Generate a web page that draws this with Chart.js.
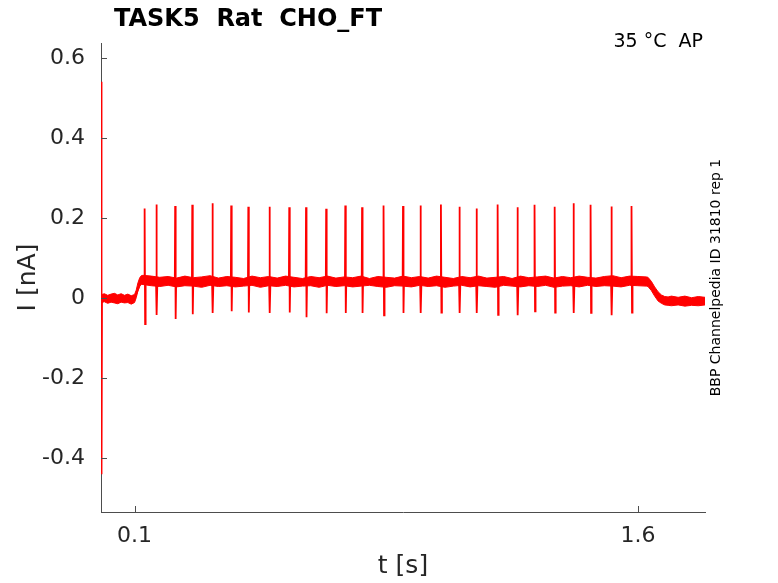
<!DOCTYPE html>
<html>
<head>
<meta charset="utf-8">
<script src="https://cdn.jsdelivr.net/npm/chart.js@4/dist/chart.umd.min.js"></script>
<style>
  body { margin: 0; background: #fff; }
  canvas { display: block; }
</style>
</head>
<body>
<canvas id="traceChart" width="778" height="583"></canvas>
<script>
// ===== Data =====
const xTicks = [0.1, 1.6];
const yTicks = [-0.4, -0.2, 0, 0.2, 0.4, 0.6];

const stepLevel = 0.042;

const spikeTimes = [0.130, 0.165, 0.221, 0.272, 0.332, 0.388, 0.439, 0.502, 0.561, 0.611,
  0.671, 0.728, 0.778, 0.842, 0.900, 0.952, 1.013, 1.068, 1.119, 1.182,
  1.241, 1.292, 1.352, 1.408, 1.459, 1.521, 1.581];
const spikePeaks = [0.224, 0.234, 0.230, 0.233, 0.237, 0.231, 0.228, 0.228, 0.227, 0.227,
  0.223, 0.231, 0.227, 0.231, 0.230, 0.231, 0.234, 0.228, 0.224, 0.234,
  0.227, 0.233, 0.228, 0.237, 0.233, 0.229, 0.230];
const spikeTroughs = [-0.065, -0.042, -0.052, -0.040, -0.037, -0.033, -0.036, -0.037, -0.036, -0.048,
  -0.038, -0.037, -0.037, -0.043, -0.037, -0.037, -0.036, -0.037, -0.037, -0.042,
  -0.043, -0.033, -0.036, -0.037, -0.037, -0.043, -0.036];

// stimulus artefact at t = 0 and the step onset
const onsetT = [0.0005, 0.0012, 0.0020, 0.0030, 0.100, 0.120];
const onsetI = [0.0, 0.54, -0.44, 0.0, 0.0, 0.042];

// noise band (upper / lower edge of the trace)
const bandT = [0.002, 0.01, 0.02, 0.03, 0.04, 0.05, 0.06, 0.07, 0.08, 0.09,
  0.1, 0.105, 0.11, 0.115, 0.12,
  0.125, 0.15, 0.175, 0.2, 0.225, 0.25, 0.275, 0.3, 0.325, 0.35,
  0.375, 0.4, 0.425, 0.45, 0.475, 0.5, 0.525, 0.55, 0.575, 0.6,
  0.625, 0.65, 0.675, 0.7, 0.725, 0.75, 0.775, 0.8, 0.825, 0.85,
  0.875, 0.9, 0.925, 0.95, 0.975, 1.0, 1.025, 1.05, 1.075, 1.1,
  1.125, 1.15, 1.175, 1.2, 1.225, 1.25, 1.275, 1.3, 1.325, 1.35,
  1.375, 1.4, 1.425, 1.45, 1.475, 1.5, 1.525, 1.55, 1.575, 1.6,
  1.625, 1.63, 1.64, 1.65, 1.66, 1.67, 1.68, 1.69, 1.70, 1.72,
  1.74, 1.76, 1.78, 1.80];
const bandUpper = [0.009, 0.011, 0.007, 0.010, 0.012, 0.008, 0.011, 0.007, 0.010, 0.006,
  0.009, 0.020, 0.038, 0.050, 0.056,
  0.057, 0.055, 0.052, 0.054, 0.050, 0.055, 0.051, 0.053, 0.056, 0.050,
  0.054, 0.052, 0.049, 0.055, 0.051, 0.054, 0.050, 0.055, 0.052, 0.049,
  0.054, 0.051, 0.055, 0.050, 0.053, 0.051, 0.055, 0.049, 0.054, 0.052,
  0.050, 0.055, 0.051, 0.054, 0.050, 0.055, 0.052, 0.049, 0.054, 0.051,
  0.055, 0.050, 0.052, 0.054, 0.049, 0.055, 0.051, 0.053, 0.055, 0.050,
  0.054, 0.051, 0.055, 0.052, 0.050, 0.054, 0.056, 0.051, 0.055, 0.054,
  0.053, 0.052, 0.042, 0.028, 0.016, 0.008, 0.004, 0.003, 0.005, 0.002,
  0.005, 0.001, 0.004, 0.002];
const bandLower = [-0.011, -0.009, -0.013, -0.010, -0.012, -0.014, -0.010, -0.012, -0.011, -0.015,
  -0.011, 0.001, 0.018, 0.030, 0.034,
  0.034, 0.031, 0.029, 0.032, 0.028, 0.031, 0.030, 0.027, 0.032, 0.029,
  0.031, 0.028, 0.030, 0.032, 0.027, 0.031, 0.029, 0.032, 0.028, 0.030,
  0.031, 0.027, 0.032, 0.029, 0.031, 0.028, 0.030, 0.032, 0.029, 0.027,
  0.031, 0.030, 0.028, 0.032, 0.029, 0.031, 0.027, 0.030, 0.032, 0.028,
  0.031, 0.029, 0.027, 0.032, 0.030, 0.028, 0.031, 0.029, 0.032, 0.027,
  0.030, 0.031, 0.028, 0.032, 0.029, 0.031, 0.030, 0.028, 0.032, 0.031,
  0.030, 0.029, 0.019, 0.005, -0.007, -0.013, -0.017, -0.018, -0.019, -0.017,
  -0.020, -0.018, -0.019, -0.017];

// ===== Build point lists =====
const upperPts = bandT.map((t, i) => ({ x: t, y: bandUpper[i] }));
const lowerPts = bandT.map((t, i) => ({ x: t, y: bandLower[i] }));

const tracePts = onsetT.map((t, i) => ({ x: t, y: onsetI[i] }));
spikeTimes.forEach((t, i) => {
  tracePts.push({ x: t - 0.001, y: stepLevel });
  tracePts.push({ x: t, y: spikePeaks[i] });
  tracePts.push({ x: t + 0.0015, y: spikeTroughs[i] });
  tracePts.push({ x: t + 0.003, y: stepLevel });
});

const RED = '#ff0000';
const AXIS = '#4d4d4d';
const TEXT = '#262626';
const FONT = "'DejaVu Sans', sans-serif";

// inward tick marks + annotation texts
const matlabDecor = {
  id: 'matlabDecor',
  afterDraw(chart) {
    const ctx = chart.ctx;
    const x = chart.scales.x, y = chart.scales.y;
    const area = chart.chartArea;
    ctx.save();
    ctx.strokeStyle = AXIS;
    ctx.lineWidth = 1;
    ctx.beginPath();
    yTicks.forEach(v => {
      const py = Math.round(y.getPixelForValue(v)) + 0.5;
      ctx.moveTo(area.left, py);
      ctx.lineTo(area.left + 6, py);
    });
    xTicks.forEach(v => {
      const px = Math.round(x.getPixelForValue(v)) + 0.5;
      ctx.moveTo(px, area.bottom);
      ctx.lineTo(px, area.bottom - 6);
    });
    ctx.stroke();

    ctx.fillStyle = '#000';
    ctx.font = "bold 24px " + FONT;
    ctx.textAlign = 'left';
    ctx.textBaseline = 'alphabetic';
    ctx.fillText('TASK5  Rat  CHO_FT', 114, 26);

    ctx.font = "19px " + FONT;
    ctx.textAlign = 'right';
    ctx.fillText('35 °C  AP', 703, 47);

    ctx.translate(716, 277.5);
    ctx.rotate(-Math.PI / 2);
    ctx.font = "14px " + FONT;
    ctx.textAlign = 'center';
    ctx.textBaseline = 'middle';
    ctx.fillText('BBP Channelpedia ID 31810 rep 1', 0, 0);
    ctx.restore();
  }
};

document.addEventListener("DOMContentLoaded", function () {
  const ctx = document.getElementById('traceChart').getContext('2d');
  new Chart(ctx, {
    type: 'scatter',
    data: {
      datasets: [
        { data: tracePts, showLine: true, borderColor: RED, borderWidth: 1.8, pointRadius: 0, tension: 0 },
        { data: upperPts, showLine: true, borderColor: RED, borderWidth: 1, pointRadius: 0, fill: false },
        { data: lowerPts, showLine: true, borderColor: RED, borderWidth: 1, pointRadius: 0,
          fill: '-1', backgroundColor: RED }
      ]
    },
    options: {
      responsive: false,
      animation: false,
      layout: { padding: { top: 43, right: 73, left: 0, bottom: 0 } },
      plugins: { legend: { display: false }, tooltip: { enabled: false } },
      scales: {
        x: {
          type: 'linear', min: 0, max: 1.8,
          afterFit: s => { s.height = 71; },
          afterBuildTicks: s => { s.ticks = xTicks.map(v => ({ value: v })); },
          grid: { display: false, drawTicks: false },
          border: { display: true, color: AXIS, width: 1 },
          ticks: { color: TEXT, font: { family: FONT, size: 22 }, padding: 11, maxRotation: 0,
            callback: v => String(v) },
          title: { display: true, text: 't [s]', color: TEXT, font: { family: FONT, size: 25 },
            padding: { top: 0, bottom: 2 } }
        },
        y: {
          min: -0.534, max: 0.637,
          afterFit: s => { s.width = 101; },
          afterBuildTicks: s => { s.ticks = yTicks.map(v => ({ value: v })); },
          grid: { display: false, drawTicks: false },
          border: { display: true, color: AXIS, width: 1 },
          ticks: { color: TEXT, font: { family: FONT, size: 22 }, padding: 16,
            callback: v => String(v) },
          title: { display: true, text: 'I [nA]', color: TEXT, font: { family: FONT, size: 25 },
            padding: { top: 13, bottom: 0 } }
        }
      }
    },
    plugins: [matlabDecor]
  });
});
</script>
</body>
</html>
